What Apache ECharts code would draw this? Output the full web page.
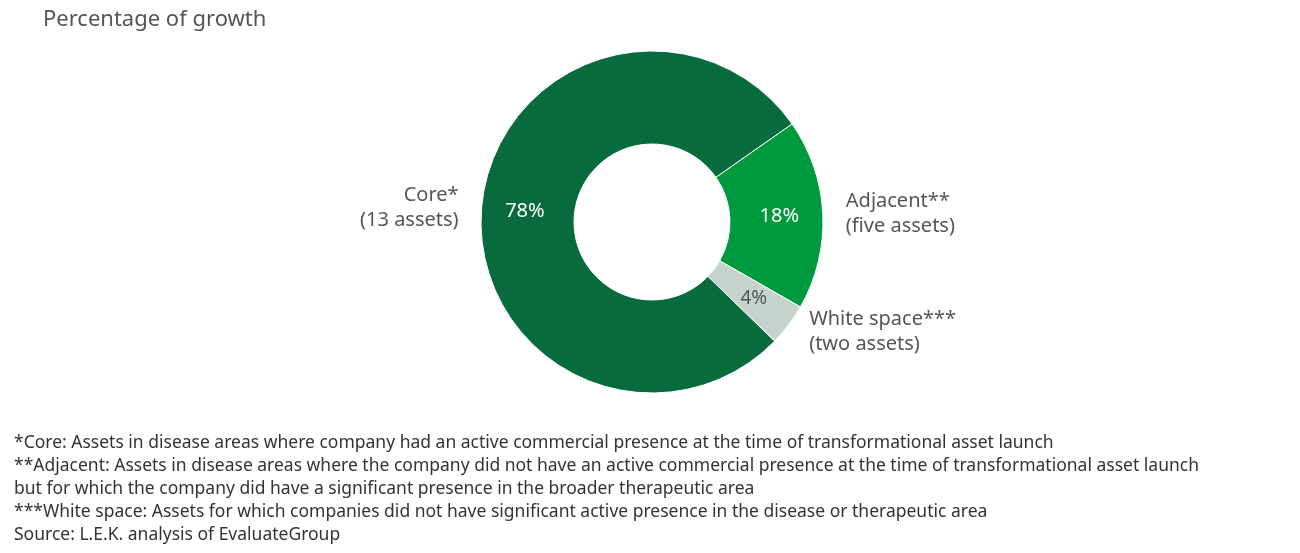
<!DOCTYPE html>
<html>
<head>
<meta charset="utf-8">
<script src="https://cdn.jsdelivr.net/npm/echarts@6/dist/echarts.min.js"></script>
<style>
  body { margin: 0; background: #fff; }
  #main { width: 1300px; height: 553px; }
</style>
</head>
<body>
<div id="main"></div>
<script>
// data, in drawing order (clockwise from the Core/Adjacent boundary)
const categories = ['Adjacent**\n(five assets)', 'White space***\n(two assets)', 'Core*\n(13 assets)'];
const shares = [18, 4, 78];
const colors = ['#009a3e', '#c6d3cc', '#086b3d'];
const footnotes = [
    '*Core: Assets in disease areas where company had an active commercial presence at the time of transformational asset launch',
    '**Adjacent: Assets in disease areas where the company did not have an active commercial presence at the time of transformational asset launch',
    'but for which the company did have a significant presence in the broader therapeutic area',
    '***White space: Assets for which companies did not have significant active presence in the disease or therapeutic area',
    'Source: L.E.K. analysis of EvaluateGroup'
];

const font = '"Noto Sans", sans-serif';
let chart = echarts.init(document.getElementById('main'));

const pieData = categories.map((c, i) => ({
    name: c, value: shares[i], itemStyle: { color: colors[i] }
}));

chart.setOption({
    animation: false,
    title: {
        text: 'Percentage of growth',
        left: 38, top: 4,
        textStyle: { fontFamily: font, fontSize: 22, fontWeight: 'normal', color: '#555' }
    },
    graphic: [{
        type: 'text', left: 14, top: 432,
        style: { text: footnotes.join('\n'), fontFamily: font, fontSize: 17.5, lineHeight: 23, fill: '#333' }
    }],
    series: [
        {
            type: 'pie',
            center: [652, 222],
            radius: [78, 171],
            startAngle: 35,
            itemStyle: { borderColor: '#fff', borderWidth: 1 },
            label: {
                position: 'inside',
                formatter: '{c}%',
                fontFamily: font, fontSize: 20
            },
            data: pieData.map((d, i) => ({
                ...d,
                label: i === 1 ? { color: '#555', fontSize: 19 } : { color: '#fff' }
            }))
        },
        {
            type: 'pie',
            center: [652, 222],
            radius: [78, 171],
            startAngle: 35,
            silent: true,
            itemStyle: { color: 'transparent' },
            label: {
                position: 'outside',
                formatter: '{b}',
                fontFamily: font, fontSize: 20, lineHeight: 25,
                color: '#555'
            },
            labelLine: { show: false, length: 12, length2: 6 },
            data: pieData.map(d => ({ name: d.name, value: d.value }))
        }
    ]
});
</script>
</body>
</html>
